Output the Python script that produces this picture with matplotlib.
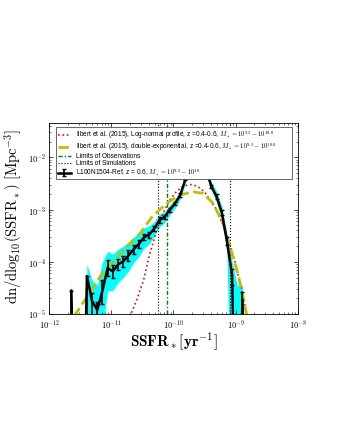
import numpy as np
import matplotlib
matplotlib.use('Agg')
import matplotlib.pyplot as plt
from matplotlib.ticker import FuncFormatter, LogLocator

plt.rcParams['font.family'] = ['Liberation Sans', 'DejaVu Sans']
plt.rcParams['mathtext.fontset'] = 'cm'

# L100N1504-Ref, z = 0.6 (log10 values, nan = empty bin)
log_ssfr = [-11.64, -11.557, -11.473, -11.39, -11.307, -11.223, -11.14, -11.057,
            -10.973, -10.89, -10.807, -10.723, -10.64, -10.557, -10.473, -10.39,
            -10.307, -10.223, -10.14, -10.057, -9.973, -9.89, -9.807, -9.723,
            -9.64, -9.557, -9.473, -9.39, -9.307, -9.223, -9.14, -9.057,
            -8.973, -8.89, -8.807]
log_phi = [-4.55, np.nan, np.nan, -4.27, -4.75, -4.92, -4.55, -4.12,
           -4.18, -4.05, -3.99, -3.88, -3.76, -3.66, -3.53, -3.48,
           -3.36, -3.20, -3.14, -3.00, -2.88, -2.72, -2.42, -2.05,
           -1.85, -1.90, -2.25, -2.55, -2.75, -3.05, -3.60, -4.25,
           np.nan, -4.72, np.nan]
err_up = [0.0, 0, 0, 0.0, 0.15, 0.15, 0.2, 0.15, 0.12, 0.1, 0.1, 0.1, 0.08, 0.07,
          0.06, 0.06, 0.05, 0.05, 0.04, 0.04, 0.03, 0.03, 0.02, 0.02, 0.02, 0.02,
          0.02, 0.03, 0.04, 0.05, 0.08, 0.12, 0, 0.15, 0]
err_dn = [1.0, 0, 0, 1.0, 0.3, 0.3, 0.25, 0.15, 0.12, 0.1, 0.1, 0.1, 0.08, 0.07,
          0.06, 0.06, 0.05, 0.05, 0.04, 0.04, 0.03, 0.03, 0.02, 0.02, 0.02, 0.02,
          0.02, 0.03, 0.04, 0.05, 0.08, 0.2, 0, 1.0, 0]
band_hi = [-4.35, np.nan, np.nan, -4.05, -4.35, -4.45, -4.0, -3.8, -3.85, -3.76,
           -3.70, -3.62, -3.53, -3.45, -3.35, -3.31, -3.23, -3.08, -3.04, -2.91,
           -2.80, -2.64, -2.36, -1.98, -1.78, -1.83, -2.17, -2.47, -2.65, -2.93,
           -3.45, -4.00, -4.45, -4.45, np.nan]
band_lo = [-8, np.nan, np.nan, -8, -8, -8, -5.3, -4.55, -4.55, -4.4, -4.3, -4.18,
           -4.02, -3.9, -3.74, -3.66, -3.5, -3.33, -3.25, -3.1, -2.97, -2.8, -2.5,
           -2.12, -1.92, -1.98, -2.33, -2.63, -2.85, -3.2, -3.8, -8, -8, -8, np.nan]

# Ilbert et al. (2015) fits
red_x = [-10.70, -10.59, -10.48, -10.38, -10.27, -10.16, -10.05, -9.94, -9.84, -9.73,
         -9.62, -9.50, -9.40, -9.30, -9.20, -9.10, -9.00, -8.90, -8.82]
red_y = [-5.05, -4.73, -4.35, -3.85, -3.40, -3.05, -2.80, -2.64, -2.55, -2.52,
         -2.55, -2.66, -2.83, -3.02, -3.30, -3.62, -4.05, -4.55, -5.02]
yel_x = [-11.60, -11.44, -11.28, -11.12, -10.95, -10.75, -10.54, -10.35, -10.11,
         -9.90, -9.68, -9.52, -9.36, -9.20, -9.09, -8.98, -8.90, -8.82]
yel_y = [-5.05, -4.76, -4.48, -4.17, -3.98, -3.71, -3.46, -3.15, -2.88,
         -2.72, -2.66, -2.69, -2.88, -3.27, -3.71, -4.16, -4.54, -5.02]

obs_limit = -10.11
sim_limits = [-10.245, -9.09]

x = 10**np.array(log_ssfr)
lp = np.array(log_phi)
y = np.where(np.isnan(lp), 1e-9, 10**lp)
yerr = [y - 10**(lp - np.array(err_dn)), 10**(lp + np.array(err_up)) - y]
yerr = np.nan_to_num(yerr)
hi = 10**np.nan_to_num(np.array(band_hi), nan=-9)
lo = 10**np.nan_to_num(np.array(band_lo), nan=-9)

fig = plt.figure(figsize=(3.4, 4.4), dpi=100)
ax = fig.add_axes([0.144, 0.286, 0.732, 0.434])

ax.fill_between(x, lo, hi, color='cyan', lw=0, zorder=1)
ax.plot(10**np.array(red_x), 10**np.array(red_y), ':', color='red', lw=1.2,
        label=r'Ilbert et al. (2015), Log-normal profile, z =0.4-0.6, $M_* = 10^{9.5} - 10^{10.0}$', zorder=3)
ax.plot(10**np.array(yel_x), 10**np.array(yel_y), '--', color='y', lw=2,
        label=r'Ilbert et al. (2015), double-exponential, z =0.4-0.6, $M_* = 10^{9.5} - 10^{10.0}$', zorder=3)
ax.axvline(10**obs_limit, color='g', ls=(0, (3, 1.5, 1, 1.5)), lw=1.0,
           label='Limits of Observations', zorder=2)
for i, s in enumerate(sim_limits):
    ax.axvline(10**s, color='k', ls=':', lw=0.8,
               label='Limits of Simulations' if i == 0 else None, zorder=2)
ax.errorbar(x, y, yerr=yerr, color='k', lw=1.8, elinewidth=1.2, capsize=1.5,
            label=r'L100N1504-Ref, z = 0.6, $M_* = 10^{9.5} - 10^{10}$', zorder=4)

ax.set_xscale('log')
ax.set_yscale('log')
ax.set_xlim(1e-12, 1e-8)
ax.set_ylim(1e-5, 0.045)

fmt = FuncFormatter(lambda v, p: r'$10^{%d}$' % round(np.log10(v)))
ax.xaxis.set_major_formatter(fmt)
ax.yaxis.set_major_formatter(fmt)
ax.yaxis.set_major_locator(LogLocator(base=10, numticks=10))
ax.tick_params(which='both', direction='in', top=True, right=True, labelsize=6)
ax.tick_params(axis='x', pad=3)
ax.tick_params(axis='y', pad=2)
ax.tick_params(which='major', length=3, width=0.5)
ax.tick_params(which='minor', length=1.5, width=0.4)
for sp in ax.spines.values():
    sp.set_linewidth(0.6)

ax.set_xlabel(r'$\mathbf{SSFR_*[yr^{-1}]}$', fontsize=11)
ax.xaxis.set_label_coords(0.5, -0.085)
ax.set_ylabel(r'$\mathrm{dn/dlog_{10}(SSFR_*)\ [Mpc^{-3}]}$', fontsize=10.5)
ax.yaxis.set_label_coords(-0.095, 0.51)

leg = ax.legend(loc='upper left', bbox_to_anchor=(0.015, 0.996, 0.975, 0), mode='expand',
                fontsize=4.7, handlelength=2.0, handleheight=0.5, borderpad=0.25,
                labelspacing=0.0, fancybox=False, framealpha=1, edgecolor='0.3')
leg.get_frame().set_linewidth(0.6)
leg.set_zorder(10)

fig.savefig('out.png', dpi=100)
